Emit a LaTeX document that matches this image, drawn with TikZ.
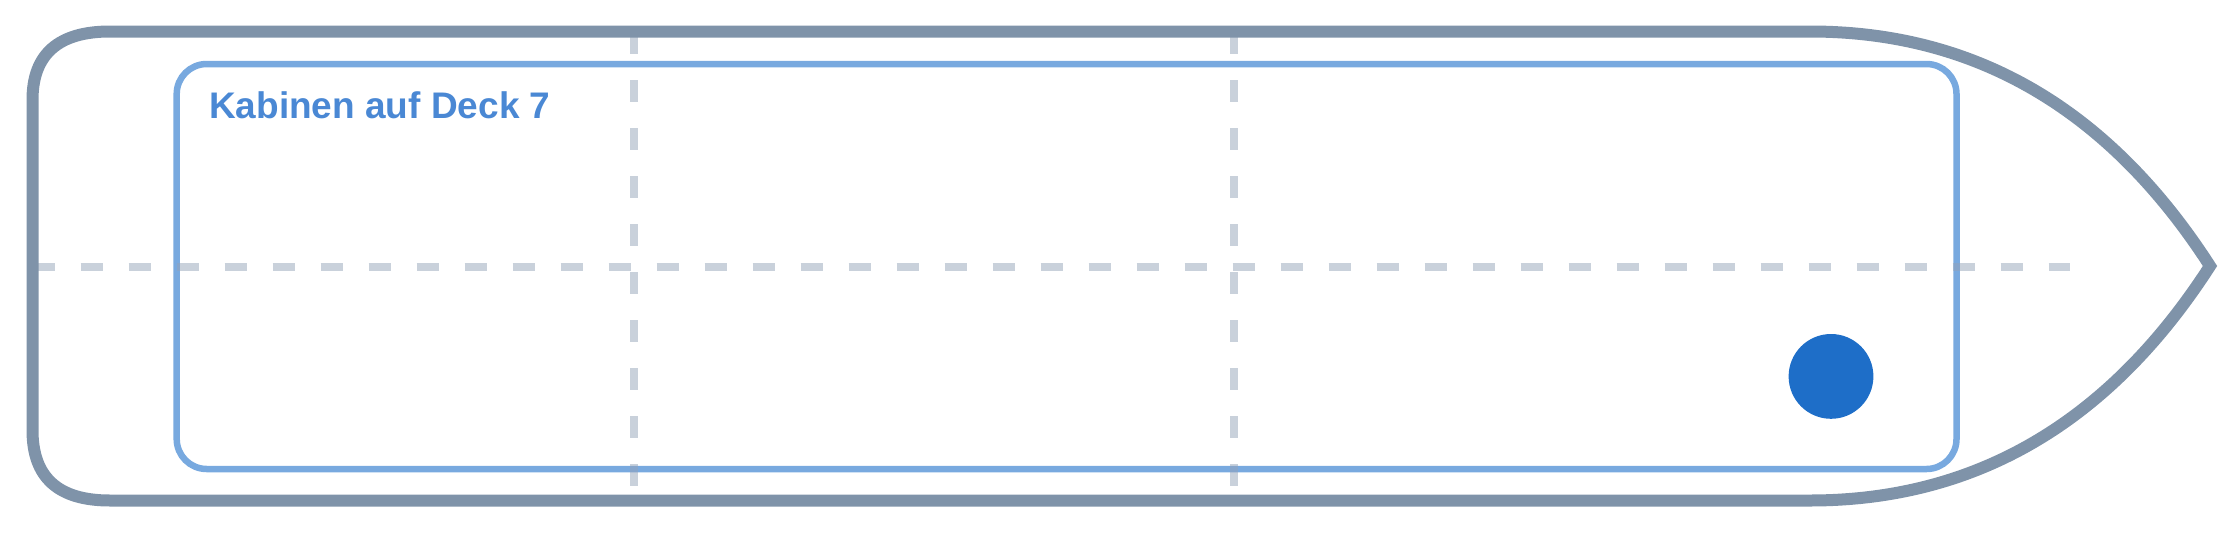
\documentclass[tikz,border=0pt]{standalone}
\usepackage{fontspec}
\setmainfont{Liberation Sans}
\definecolor{hullgray}{HTML}{7F93A9}
\definecolor{cabinblue}{HTML}{78A9DF}
\definecolor{labelblue}{HTML}{4A88D4}
\definecolor{dotblue}{HTML}{1E6EC8}
\definecolor{gridslate}{HTML}{94A3B8}
\tikzset{
  hull/.style={draw=hullgray, line width=12pt, line join=miter, miter limit=10},
  cabin/.style={draw=cabinblue, line width=6.5pt, rounded corners=30pt},
  gridline/.style={draw=gridslate, draw opacity=0.5, line width=8pt, dash pattern=on 22pt off 26pt},
  cabinlabel/.style={text=labelblue, font=\bfseries\fontsize{37}{44}\selectfont, inner sep=0pt, anchor=base west},
  marker/.style={fill=dotblue}
}
\begin{document}
\begin{tikzpicture}[x=1pt,y=-1pt]
\useasboundingbox (0,0) rectangle (2240,533);
% cabin area
\draw[cabin] (176.7,64) rectangle (1956.5,469);
% grid lines
\coordinate (hl) at (32.5,266.5);
\coordinate (hr) at (2070,266.5);
\coordinate (v1t) at (633.5,32);
\coordinate (v1b) at (633.5,500);
\coordinate (v2t) at (1233.5,32);
\coordinate (v2b) at (1233.5,500);
\draw[gridline] (hl) -- (hr);
\draw[gridline] (v1t) -- (v1b);
\draw[gridline] (v2t) -- (v2b);
% hull
\draw[hull] (110,31.5) -- (1810,31.5)
  .. controls (1976,31.5) and (2109.3,109.7) .. (2210,266)
  .. controls (2109.3,422.3) and (1976,500.5) .. (1810,500.5)
  -- (110,500.5)
  .. controls (58.3,500.5) and (32.5,477.7) .. (32.5,430)
  -- (32.5,100)
  .. controls (32.5,54.3) and (58.3,31.5) .. cycle;
% label
\node[cabinlabel] (label) at (209,118) {Kabinen auf Deck 7};
% position marker
\fill[marker] (1831,376.4) circle (42.4);
\end{tikzpicture}
\end{document}
